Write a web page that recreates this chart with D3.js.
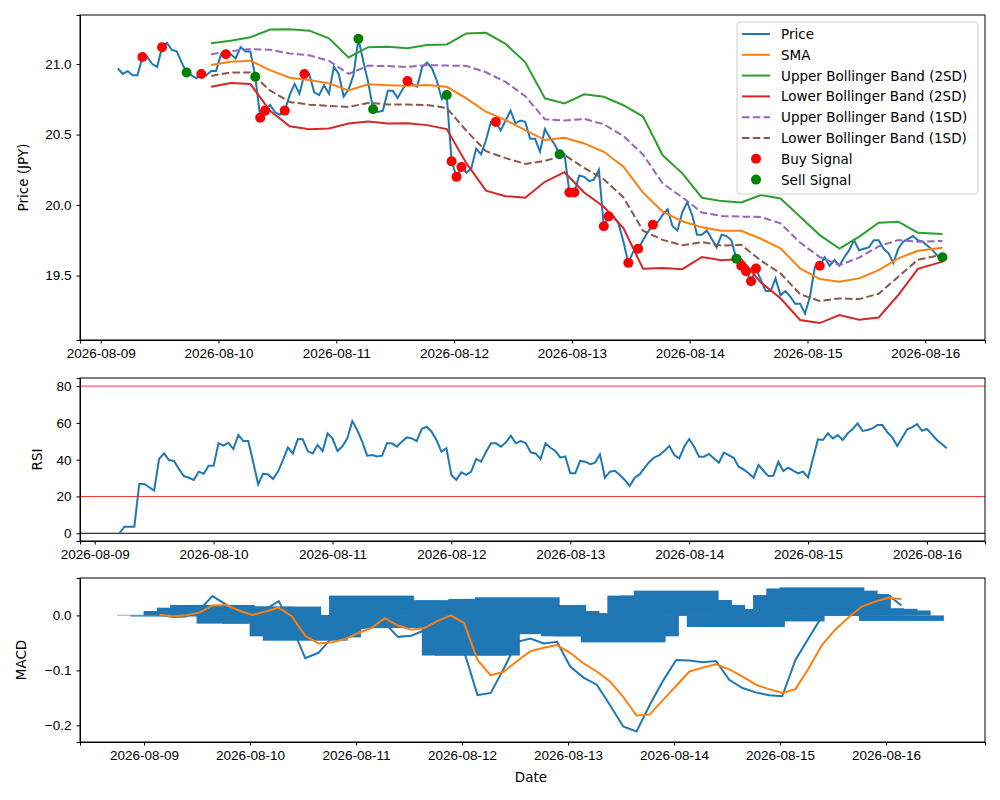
<!DOCTYPE html>
<html>
<head>
<meta charset="utf-8">
<script src="https://cdn.jsdelivr.net/npm/d3@7"></script>
<style>
  body { margin: 0; background: #fff; }
  svg { font-family: "DejaVu Sans", sans-serif; }
  .tick text { font-size: 13.5px; fill: #000; }
  .tick line, .domain { stroke: #000; }
</style>
</head>
<body>
<svg id="chart" width="1000" height="800"></svg>
<script>
// hourly price, starting 2026-08-09 03:30
const priceStart = new Date(2026, 7, 9, 3, 30);
const price = [
  20.97,20.93,20.95,20.92,20.92,21.05,21.05,21.00,20.98,21.12,
  21.15,21.10,21.09,21.01,20.94,20.92,20.90,20.93,20.92,20.95,
  20.95,21.07,21.07,21.07,21.04,21.12,21.09,21.09,20.91,20.62,
  20.67,20.71,20.66,20.64,20.67,20.78,20.86,20.79,20.93,20.93,
  20.80,20.78,20.85,20.79,20.98,20.93,20.77,20.82,20.92,21.18,
  21.02,20.87,20.68,
  20.66,20.67,20.81,20.81,20.76,20.82,20.88,20.86,20.84,20.98,
  21.01,20.97,20.88,20.75,20.78,20.31,20.20,20.27,20.23,20.26,
  20.40,20.36,20.46,20.59,20.59,20.53,20.60,20.67,20.58,20.60,
  20.59,20.47,20.47,20.38,20.54,20.48,20.43,20.36,20.36,20.09,
  20.09,20.21,20.20,20.17,20.18,20.25,19.85,19.92,19.92,19.87,
  19.74,19.59,19.67,19.69,19.75,19.81,19.86,19.88,19.93,19.97,
  19.85,19.82,19.95,20.02,
  19.93,19.79,19.79,19.82,19.76,19.70,19.79,19.78,19.75,19.62,
  19.57,19.53,19.46,19.55,19.47,19.39,19.39,19.48,19.36,19.39,
  19.35,19.30,19.30,19.23,19.35,19.56,19.57,19.63,19.57,19.61,
  19.57,19.63,19.68,19.75,19.68,19.69,19.70,19.75,19.75,19.69,
  19.66,19.59,19.69,19.74,19.76,19.78,19.75,19.74,19.71,19.68,
  19.64,19.63
];

// Bollinger inputs, read every 4 hours (hour index into price)
const bandHours = [19,23,27,31,35,39,43,47,51,55,59,63,67,71,75,79,83,87,91,95,99,103,107,111,115,119,123,127,131,135,139,143,147,151,155,159,163,168];
const sma = [20.993,21.016,21.024,20.957,20.903,20.887,20.863,20.813,20.856,20.85,
  20.846,20.851,20.839,20.757,20.662,20.603,20.532,20.461,20.477,20.437,
  20.378,20.272,20.088,19.953,19.885,19.842,19.818,19.818,19.761,19.693,
  19.551,19.475,19.456,19.48,19.539,19.622,19.676,19.697];
const sd = [0.077,0.075,0.083,0.144,0.172,0.175,0.16,0.117,0.132,0.136,
  0.133,0.142,0.15,0.23,0.28,0.27,0.24,0.148,0.122,0.174,
  0.195,0.218,0.27,0.2,0.17,0.105,0.105,0.10,0.155,0.177,
  0.183,0.156,0.118,0.147,0.168,0.13,0.064,0.049];

const buyHours = [5,9,17,22,29,30,34,38,59,68,69,70,77,92,93,99,100,104,106,109,127,128,129,130,143];
const sellHours = [14,28,49,52,67,90,126,168];

// hourly RSI, starting 2026-08-09 05:00
const rsiStart = new Date(2026, 7, 9, 5, 0);
const rsi = [
  0,3.6,3.6,3.6,26.8,26.8,25.0,23.2,40.4,43.4,
  39.8,39.3,34.9,31.1,30.2,29.0,33.5,32.4,36.7,36.7,
  49.0,47.6,49.2,45.8,53.4,50.1,50.1,38.6,26.6,32.4,
  32.0,29.5,33.5,39.8,46.7,43.4,51.2,51.1,44.7,43.4,
  48.0,44.7,54.3,51.6,44.7,47.3,51.6,61.0,56.1,49.8,
  42.2,42.5,41.8,
  42.2,48.9,48.9,47.0,49.8,52.1,51.6,50.1,56.7,57.9,
  55.2,50.7,44.3,46.2,31.7,29.0,33.1,31.7,33.5,40.4,
  38.9,44.3,48.9,48.9,47.0,49.4,53.0,48.9,50.1,49.0,
  44.0,43.4,40.4,48.9,46.5,44.7,41.1,41.8,32.6,32.6,
  39.3,38.9,37.6,38.4,42.9,30.2,33.5,34.0,31.7,29.0,
  25.7,30.2,32.0,35.6,38.9,41.3,42.5,44.7,47.4,42.5,
  40.7,47.0,51.2,
  47.0,41.6,41.6,43.1,40.7,38.4,43.8,42.5,40.9,36.2,
  34.7,32.6,30.2,37.1,34.0,31.1,31.3,38.9,33.8,35.6,
  34.0,32.6,33.5,30.4,40.7,51.1,50.7,54.3,51.6,53.4,
  50.7,54.3,56.7,59.7,55.6,56.1,57.0,58.8,58.8,54.9,
  52.1,47.4,51.9,56.5,57.6,59.4,55.7,56.7,53.8,50.7,
  48.5,46.2
];
const rsiLevels = [80, 20];

// MACD every 3 hours, starting 2026-08-09 03:30
const macdStart = new Date(2026, 7, 9, 3, 30);
const macdStepHours = 3;
const macd = [0.001,-0.003,-0.002,0.010,0.035,0.020,0.005,0.002,0.011,0.026,
  -0.020,-0.078,-0.068,-0.041,-0.035,-0.025,-0.020,-0.014,-0.039,-0.037,
  -0.027,-0.020,-0.023,-0.066,-0.145,-0.141,-0.096,-0.048,-0.042,-0.051,
  -0.048,-0.093,-0.113,-0.126,-0.163,-0.202,-0.211,-0.163,-0.119,-0.081,
  -0.082,-0.085,-0.083,-0.117,-0.132,-0.140,-0.145,-0.147,-0.081,-0.041,
  -0.002,0.016,0.016,0.028,0.037,0.037,0.018];
const signal = [0.001,-0.0015,0.0003,0.005,0.018,0.019,0.009,0.001,0.007,0.014,
  -0.002,-0.037,-0.051,-0.049,-0.043,-0.032,-0.023,-0.005,-0.0185,-0.026,
  -0.023,-0.010,0.000,-0.014,-0.081,-0.109,-0.102,-0.083,-0.065,-0.059,
  -0.054,-0.068,-0.087,-0.102,-0.120,-0.148,-0.182,-0.180,-0.154,-0.128,
  -0.102,-0.095,-0.089,-0.098,-0.111,-0.126,-0.134,-0.141,-0.134,-0.096,
  -0.054,-0.026,-0.004,0.016,0.025,0.032,0.030];
const histogram = [0.001,-0.002,0.008,0.014,0.019,0.016,-0.015,0.016,-0.015,0.016,
  -0.038,-0.046,-0.040,-0.023,-0.023,-0.023,0.036,-0.023,0.027,0.027,
  0.027,0.027,-0.023,-0.073,-0.073,0.030,-0.034,0.033,-0.034,0.019,
  0.008,0.004,-0.038,-0.038,0.004,-0.049,-0.038,0.036,0.036,0.045,
  0.028,0.019,0.011,-0.021,-0.021,0.011,0.011,-0.011,0.037,0.049,
  0.051,0.045,0.037,0.013,0.012,0.009,-0.010];

const dayTicks = ["2026-08-09","2026-08-10","2026-08-11","2026-08-12","2026-08-13","2026-08-14","2026-08-15","2026-08-16"];
const priceTicks = [19.5, 20.0, 20.5, 21.0];
const rsiTicks = [0, 20, 40, 60, 80];
const macdTicks = [-0.2, -0.1, 0.0];

const C = { blue: "#1f77b4", orange: "#ff7f0e", green: "#2ca02c", red: "#d62728", purple: "#9467bd", brown: "#8c564b" };
const HOUR = 3600e3;
const parseDay = d3.timeParse("%Y-%m-%d");
const fmtDay = d3.timeFormat("%Y-%m-%d");
const tickDates = dayTicks.map(parseDay);
const svg = d3.select("#chart");
const left = 80, right = 985;

function panel(top, bottom, xDomain, yDomain, yTicks, yFmt, yLabel, labelX) {
  const x = d3.scaleTime().domain(xDomain).range([left, right]);
  const y = d3.scaleLinear().domain(yDomain).range([bottom, top]);
  const g = svg.append("g");
  const clip = "clip" + top;
  svg.append("clipPath").attr("id", clip).append("rect")
    .attr("x", left).attr("y", top).attr("width", right - left).attr("height", bottom - top);
  const plot = g.append("g").attr("clip-path", `url(#${clip})`);
  g.append("g").attr("transform", `translate(0,${bottom})`)
    .call(d3.axisBottom(x).tickValues(tickDates).tickFormat(fmtDay).tickSizeOuter(0).tickSize(3.5).tickPadding(5));
  g.append("g").attr("transform", `translate(${left},0)`)
    .call(d3.axisLeft(y).tickValues(yTicks).tickFormat(yFmt).tickSizeOuter(0).tickSize(3.5).tickPadding(5));
  g.append("rect").attr("x", left).attr("y", top).attr("width", right - left).attr("height", bottom - top)
    .attr("fill", "none").attr("stroke", "#000").attr("stroke-width", 1);
  g.append("text").attr("transform", `translate(${labelX},${(top + bottom) / 2}) rotate(-90)`)
    .attr("text-anchor", "middle").style("font-size", "13.5px").text(yLabel);
  return { x, y, plot };
}

function drawLine(p, data, color, dash) {
  p.plot.append("path").datum(data)
    .attr("fill", "none").attr("stroke", color).attr("stroke-width", 2)
    .attr("stroke-dasharray", dash || null)
    .attr("d", d3.line().x(d => p.x(d[0])).y(d => p.y(d[1])));
}

// ---- price panel
const top1 = panel(15, 340, [new Date(2026, 7, 8, 19, 47), new Date(2026, 7, 16, 12, 10)],
  [19.043, 21.348], priceTicks, d3.format(".1f"), "Price (JPY)", 28);
const pHour = i => new Date(+priceStart + i * HOUR);
const dash = "7.5,3.3";
drawLine(top1, price.map((v, i) => [pHour(i), v]), C.blue);
drawLine(top1, bandHours.map((h, i) => [pHour(h), sma[i]]), C.orange);
drawLine(top1, bandHours.map((h, i) => [pHour(h), sma[i] + 2 * sd[i]]), C.green);
drawLine(top1, bandHours.map((h, i) => [pHour(h), sma[i] - 2 * sd[i]]), C.red);
drawLine(top1, bandHours.map((h, i) => [pHour(h), sma[i] + sd[i]]), C.purple, dash);
drawLine(top1, bandHours.map((h, i) => [pHour(h), sma[i] - sd[i]]), C.brown, dash);
top1.plot.selectAll(".buy").data(buyHours).join("circle")
  .attr("cx", h => top1.x(pHour(h))).attr("cy", h => top1.y(price[h])).attr("r", 5).attr("fill", "red");
top1.plot.selectAll(".sell").data(sellHours).join("circle")
  .attr("cx", h => top1.x(pHour(h))).attr("cy", h => top1.y(price[h])).attr("r", 5).attr("fill", "green");

// legend
const legendItems = [
  ["Price", C.blue, "line"], ["SMA", C.orange, "line"],
  ["Upper Bollinger Band (2SD)", C.green, "line"], ["Lower Bollinger Band (2SD)", C.red, "line"],
  ["Upper Bollinger Band (1SD)", C.purple, "dash"], ["Lower Bollinger Band (1SD)", C.brown, "dash"],
  ["Buy Signal", "red", "dot"], ["Sell Signal", "green", "dot"]
];
const lg = svg.append("g");
lg.append("rect").attr("x", 737).attr("y", 22).attr("width", 241).attr("height", 172).attr("rx", 3)
  .attr("fill", "#fff").attr("fill-opacity", 0.8).attr("stroke", "#ccc");
legendItems.forEach(([label, color, kind], i) => {
  const yy = 34 + i * 20.8;
  if (kind === "dot") {
    lg.append("circle").attr("cx", 756).attr("cy", yy).attr("r", 5).attr("fill", color);
  } else {
    lg.append("line").attr("x1", 742).attr("x2", 770).attr("y1", yy).attr("y2", yy)
      .attr("stroke", color).attr("stroke-width", 2).attr("stroke-dasharray", kind === "dash" ? dash : null);
  }
  lg.append("text").attr("x", 781).attr("y", yy + 5).style("font-size", "13.5px").text(label);
});

// ---- RSI panel
const mid = panel(378, 541, [new Date(2026, 7, 8, 21, 2), new Date(2026, 7, 16, 11, 43)],
  [-4.2, 84.4], rsiTicks, d3.format("d"), "RSI", 42);
rsiLevels.forEach(v => mid.plot.append("line").attr("x1", left).attr("x2", right)
  .attr("y1", mid.y(v)).attr("y2", mid.y(v)).attr("stroke", "red").attr("stroke-width", 0.8));
mid.plot.append("line").attr("x1", left).attr("x2", right)
  .attr("y1", mid.y(0)).attr("y2", mid.y(0)).attr("stroke", "#000").attr("stroke-width", 1);
drawLine(mid, rsi.map((v, i) => [new Date(+rsiStart + i * HOUR), v]), C.blue);

// ---- MACD panel
const bot = panel(578, 742, [new Date(2026, 7, 8, 9, 30), new Date(2026, 7, 16, 22, 25)],
  [-0.2302, 0.068], macdTicks, v => d3.format(".1f")(v).replace("-", "\u2212"), "MACD", 26);
const mTime = i => new Date(+macdStart + i * macdStepHours * HOUR);
const barHalf = 0.4 * 24 * HOUR;
bot.plot.selectAll(".bar").data(histogram).join("rect")
  .attr("x", (d, i) => bot.x(new Date(+mTime(i) - barHalf)))
  .attr("width", (d, i) => bot.x(new Date(+mTime(i) + barHalf)) - bot.x(new Date(+mTime(i) - barHalf)))
  .attr("y", d => bot.y(Math.max(0, d)))
  .attr("height", d => Math.abs(bot.y(d) - bot.y(0)))
  .attr("fill", C.blue);
drawLine(bot, macd.map((v, i) => [mTime(i), v]), C.blue);
drawLine(bot, signal.map((v, i) => [mTime(i), v]), C.orange);
svg.append("text").attr("x", 531).attr("y", 782).attr("text-anchor", "middle")
  .style("font-size", "13.5px").text("Date");
</script>
</body>
</html>
